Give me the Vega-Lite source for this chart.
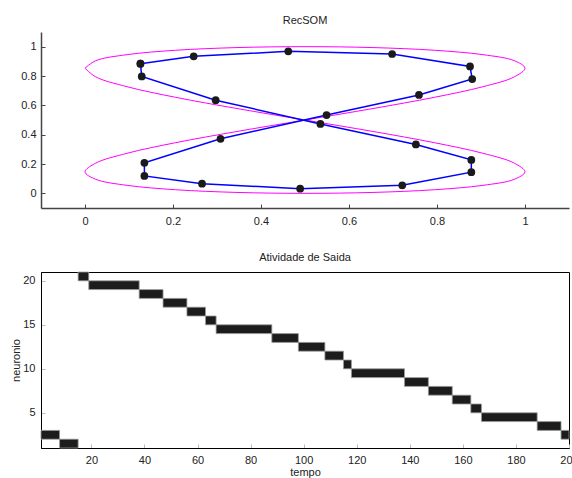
{
  "$schema": "https://vega.github.io/schema/vega-lite/v6.json",
  "background": "white",
  "padding": {"left": 10, "top": 15, "right": 0, "bottom": 0},
  "config": {
    "font": "Liberation Sans",
    "axis": {"labelFont": "Liberation Sans", "titleFont": "Liberation Sans", "labelFontSize": 11, "titleFontSize": 11, "titleFontWeight": "normal", "labelColor": "#222", "titleColor": "#222", "grid": false, "labelFlush": false, "labelOverlap": false, "labelBound": false},
    "title": {"font": "Liberation Sans", "fontSize": 11, "fontWeight": "normal", "color": "#222"}
  },
  "datasets": {
    "curve": [
      {"k":0,"x":0,"y":0.8536},{"k":1,"x":0.0245,"y":0.7939},{"k":2,"x":0.0955,"y":0.7270},{"k":3,"x":0.2061,"y":0.6545},{"k":4,"x":0.3455,"y":0.5782},
      {"k":5,"x":0.5,"y":0.5},{"k":6,"x":0.6545,"y":0.4218},{"k":7,"x":0.7939,"y":0.3455},{"k":8,"x":0.9045,"y":0.2730},{"k":9,"x":0.9755,"y":0.2061},
      {"k":10,"x":1,"y":0.1464},{"k":11,"x":0.9755,"y":0.0955},{"k":12,"x":0.9045,"y":0.0545},{"k":13,"x":0.7939,"y":0.0245},{"k":14,"x":0.6545,"y":0.0062},
      {"k":15,"x":0.5,"y":0},{"k":16,"x":0.3455,"y":0.0062},{"k":17,"x":0.2061,"y":0.0245},{"k":18,"x":0.0955,"y":0.0545},{"k":19,"x":0.0245,"y":0.0955},
      {"k":20,"x":0,"y":0.1464},{"k":21,"x":0.0245,"y":0.2061},{"k":22,"x":0.0955,"y":0.2730},{"k":23,"x":0.2061,"y":0.3455},{"k":24,"x":0.3455,"y":0.4218},
      {"k":25,"x":0.5,"y":0.5},{"k":26,"x":0.6545,"y":0.5782},{"k":27,"x":0.7939,"y":0.6545},{"k":28,"x":0.9045,"y":0.7270},{"k":29,"x":0.9755,"y":0.7939},
      {"k":30,"x":1,"y":0.8536},{"k":31,"x":0.9755,"y":0.9045},{"k":32,"x":0.9045,"y":0.9455},{"k":33,"x":0.7939,"y":0.9755},{"k":34,"x":0.6545,"y":0.9938},
      {"k":35,"x":0.5,"y":1},{"k":36,"x":0.3455,"y":0.9938},{"k":37,"x":0.2061,"y":0.9755},{"k":38,"x":0.0955,"y":0.9455},{"k":39,"x":0.0245,"y":0.9045},
      {"k":40,"x":0,"y":0.8536}
    ],
    "som": [
      {"i":1,"x":0.126,"y":0.884},{"i":2,"x":0.247,"y":0.934},{"i":3,"x":0.462,"y":0.968},{"i":4,"x":0.698,"y":0.950},
      {"i":5,"x":0.875,"y":0.865},{"i":6,"x":0.880,"y":0.779},{"i":7,"x":0.759,"y":0.671},{"i":8,"x":0.549,"y":0.534},
      {"i":9,"x":0.308,"y":0.372},{"i":10,"x":0.135,"y":0.208},{"i":11,"x":0.135,"y":0.119},{"i":12,"x":0.266,"y":0.066},
      {"i":13,"x":0.489,"y":0.032},{"i":14,"x":0.721,"y":0.055},{"i":15,"x":0.878,"y":0.144},{"i":16,"x":0.878,"y":0.228},
      {"i":17,"x":0.752,"y":0.333},{"i":18,"x":0.535,"y":0.473},{"i":19,"x":0.297,"y":0.635},{"i":20,"x":0.129,"y":0.797},
      {"i":21,"x":0.126,"y":0.884}
    ],
    "act": [
      {"neuron":2,"neuron_top":3,"t0":1,"t1":8},
      {"neuron":1,"neuron_top":2,"t0":8,"t1":15},
      {"neuron":20,"neuron_top":21,"t0":15,"t1":19},
      {"neuron":19,"neuron_top":20,"t0":19,"t1":38},
      {"neuron":18,"neuron_top":19,"t0":38,"t1":47},
      {"neuron":17,"neuron_top":18,"t0":47,"t1":56},
      {"neuron":16,"neuron_top":17,"t0":56,"t1":63},
      {"neuron":15,"neuron_top":16,"t0":63,"t1":67},
      {"neuron":14,"neuron_top":15,"t0":67,"t1":88},
      {"neuron":13,"neuron_top":14,"t0":88,"t1":98},
      {"neuron":12,"neuron_top":13,"t0":98,"t1":108},
      {"neuron":11,"neuron_top":12,"t0":108,"t1":115},
      {"neuron":10,"neuron_top":11,"t0":115,"t1":118},
      {"neuron":9,"neuron_top":10,"t0":118,"t1":138},
      {"neuron":8,"neuron_top":9,"t0":138,"t1":147},
      {"neuron":7,"neuron_top":8,"t0":147,"t1":156},
      {"neuron":6,"neuron_top":7,"t0":156,"t1":163},
      {"neuron":5,"neuron_top":6,"t0":163,"t1":167},
      {"neuron":4,"neuron_top":5,"t0":167,"t1":188},
      {"neuron":3,"neuron_top":4,"t0":188,"t1":197},
      {"neuron":2,"neuron_top":3,"t0":197,"t1":200}
    ]
  },
  "vconcat": [
    {
      "title": {"text": "RecSOM", "offset": 6},
      "width": 528,
      "height": 176,
      "view": {"stroke": null},
      "layer": [
        {
          "data": {"name": "curve"},
          "mark": {"type": "line", "color": "#ff00ff", "strokeWidth": 1, "interpolate": "catmull-rom"},
          "encoding": {
            "x": {"field": "x", "type": "quantitative", "scale": {"domain": [-0.1, 1.1], "nice": false, "zero": false},
                  "axis": {"title": null, "values": [0, 0.2, 0.4, 0.6, 0.8, 1], "tickCount": 12, "format": "~g", "labelOverlap": false, "domainColor": "#444", "domainWidth": 1.5, "tickColor": "#444", "tickSize": -4, "labelPadding": 11}},
            "y": {"field": "y", "type": "quantitative", "scale": {"domain": [-0.1, 1.1], "nice": false, "zero": false},
                  "axis": {"title": null, "values": [0, 0.2, 0.4, 0.6, 0.8, 1], "tickCount": 12, "format": "~g", "labelOverlap": false, "domainColor": "#444", "domainWidth": 1.5, "tickColor": "#444", "tickSize": -4, "labelPadding": 9}},
            "order": {"field": "k", "type": "quantitative"}
          }
        },
        {
          "data": {"name": "som"},
          "mark": {"type": "line", "color": "#0000ff", "strokeWidth": 1.5},
          "encoding": {
            "x": {"field": "x", "type": "quantitative"},
            "y": {"field": "y", "type": "quantitative"},
            "order": {"field": "i", "type": "quantitative"}
          }
        },
        {
          "data": {"name": "som"},
          "mark": {"type": "circle", "color": "#1a1a1a", "opacity": 1, "size": 60},
          "encoding": {
            "x": {"field": "x", "type": "quantitative"},
            "y": {"field": "y", "type": "quantitative"}
          }
        }
      ]
    },
    {
      "title": {"text": "Atividade de Saida", "offset": 9},
      "width": 528,
      "height": 176,
      "view": {"stroke": "#000", "strokeWidth": 1},
      "data": {"name": "act"},
      "mark": {"type": "rect", "fill": "#1c1c1c", "stroke": "#9a9a9a", "strokeWidth": 0.8},
      "encoding": {
        "x": {"field": "t0", "type": "quantitative", "scale": {"domain": [1, 200], "nice": false, "zero": false},
              "axis": {"title": "tempo", "values": [20, 40, 60, 80, 100, 120, 140, 160, 180, 200], "tickCount": 20, "labelOverlap": false, "domainColor": "#000", "tickColor": "#bbb", "tickSize": -4, "labelPadding": 10, "titlePadding": 1}},
        "x2": {"field": "t1"},
        "y": {"field": "neuron", "type": "quantitative", "scale": {"domain": [1, 21], "nice": false, "zero": false},
              "axis": {"title": "neuronio", "values": [5, 10, 15, 20], "tickCount": 10, "labelOverlap": false, "domainColor": "#000", "tickColor": "#bbb", "tickSize": -4, "labelPadding": 10, "titlePadding": 1}},
        "y2": {"field": "neuron_top"}
      }
    }
  ],
  "spacing": 25
}
